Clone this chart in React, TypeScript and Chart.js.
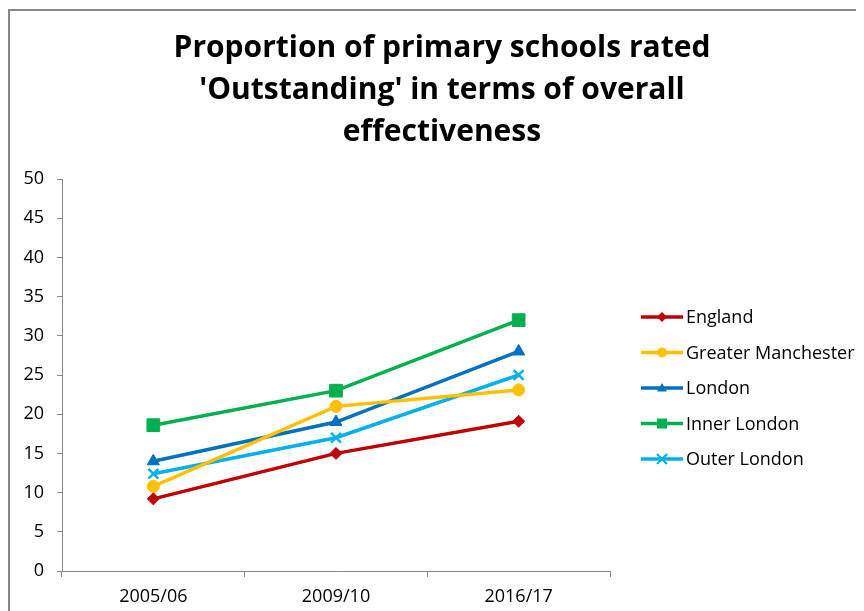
import React, { useEffect, useRef } from "react";
import { Chart, registerables } from "chart.js";

Chart.register(...registerables);

const categories = ["2005/06", "2009/10", "2016/17"];
const seriesNames = ["England", "Greater Manchester", "London", "Inner London", "Outer London"];
const england = [9.2, 15, 19.1];
const greaterManchester = [10.8, 21, 23.1];
const london = [14, 19, 28];
const innerLondon = [18.6, 23, 32];
const outerLondon = [12.4, 17, 25];
const yTicks = [0, 5, 10, 15, 20, 25, 30, 35, 40, 45, 50];
const titleLines = [
  "Proportion of primary schools rated",
  "'Outstanding' in terms of overall",
  "effectiveness",
];

const colors = ["#C00000", "#FFC000", "#0070C0", "#00B050", "#00B0F0"];
const styles = ["rectRot", "circle", "triangle", "rect", "crossRot"];
const radii = [6, 6, 7, 9, 7];
const FONT = "'Open Sans', sans-serif";

function drawMarker(ctx: CanvasRenderingContext2D, style: string, x: number, y: number, r: number, color: string) {
  ctx.save();
  ctx.fillStyle = color;
  ctx.strokeStyle = color;
  ctx.lineWidth = 2;
  ctx.beginPath();
  if (style === "rectRot") {
    ctx.moveTo(x, y - r);
    ctx.lineTo(x + r, y);
    ctx.lineTo(x, y + r);
    ctx.lineTo(x - r, y);
    ctx.closePath();
    ctx.fill();
  } else if (style === "circle") {
    ctx.arc(x, y, r, 0, Math.PI * 2);
    ctx.fill();
  } else if (style === "triangle") {
    ctx.moveTo(x, y - r);
    ctx.lineTo(x + r, y + r * 0.7);
    ctx.lineTo(x - r, y + r * 0.7);
    ctx.closePath();
    ctx.fill();
  } else if (style === "rect") {
    ctx.rect(x - r, y - r, 2 * r, 2 * r);
    ctx.fill();
  } else {
    ctx.moveTo(x - r, y - r);
    ctx.lineTo(x + r, y + r);
    ctx.moveTo(x + r, y - r);
    ctx.lineTo(x - r, y + r);
    ctx.stroke();
  }
  ctx.restore();
}

const legendPlugin = {
  id: "lineLegend",
  afterDraw(chart: any) {
    const ctx = chart.ctx as CanvasRenderingContext2D;
    // title
    ctx.save();
    ctx.fillStyle = "#000";
    ctx.font = "bold 30px " + FONT;
    ctx.textAlign = "center";
    ctx.textBaseline = "middle";
    titleLines.forEach((line, i) => {
      ctx.fillText(line, 434, 40 + i * 42);
    });
    ctx.restore();
    // legend
    const top = 309;
    const step = 35.5;
    chart.data.datasets.forEach((ds: any, i: number) => {
      const y = top + i * step;
      ctx.save();
      ctx.strokeStyle = ds.borderColor;
      ctx.lineWidth = 3.5;
      ctx.beginPath();
      ctx.moveTo(633, y);
      ctx.lineTo(675, y);
      ctx.stroke();
      ctx.restore();
      drawMarker(ctx, styles[i], 654, y, 5, ds.borderColor);
      ctx.save();
      ctx.fillStyle = "#000";
      ctx.font = "18px " + FONT;
      ctx.textBaseline = "middle";
      ctx.textAlign = "left";
      ctx.fillText(ds.label, 678, y + 1);
      ctx.restore();
    });
  },
};

export default function App() {
  const ref = useRef<HTMLCanvasElement>(null);
  useEffect(() => {
    const allData = [england, greaterManchester, london, innerLondon, outerLondon];
    const chart = new Chart(ref.current!, {
      type: "line",
      data: {
        labels: categories,
        datasets: seriesNames.map((name, i) => ({
          label: name,
          data: allData[i],
          borderColor: colors[i],
          backgroundColor: colors[i],
          borderWidth: 3.5,
          pointStyle: styles[i] as any,
          pointRadius: radii[i],
          pointBorderWidth: styles[i] === "crossRot" ? 2.5 : 1,
          tension: 0,
        })),
      },
      options: {
        animation: false,
        responsive: false,
        layout: { padding: { right: 254, bottom: 0, left: 0, top: 171 } },
        plugins: {
          legend: { display: false },
          tooltip: { enabled: false },
          title: { display: false },
        },
        scales: {
          x: {
            offset: true,
            afterFit: (scale: any) => {
              scale.height = 40;
            },
            grid: { display: true, drawOnChartArea: false, offset: true, tickLength: 6, color: "#868686" },
            border: { display: true, color: "#868686" },
            ticks: { color: "#000", font: { family: FONT, size: 18 }, padding: 9 },
          },
          y: {
            min: 0,
            max: 50,
            afterBuildTicks: (scale: any) => {
              scale.ticks = yTicks.map((v) => ({ value: v }));
            },
            afterFit: (scale: any) => {
              scale.width = 54;
            },
            grid: { display: true, drawOnChartArea: false, tickLength: 5, color: "#868686" },
            border: { display: true, color: "#868686" },
            ticks: { color: "#000", font: { family: FONT, size: 18 }, padding: 13 },
          },
        },
      },
      plugins: [legendPlugin],
    });
    return () => chart.destroy();
  }, []);
  return (
    <div style={{ position: "relative", width: 856, height: 603 }}>
      <div
        style={{
          position: "absolute",
          left: 0,
          top: 1,
          width: 856,
          height: 602,
          borderTop: "2px solid #888",
          borderLeft: "2px solid #888",
          boxSizing: "border-box",
        }}
      />
      <canvas ref={ref} width={856} height={603} style={{ position: "absolute", left: 0, top: 0 }} />
    </div>
  );
}
